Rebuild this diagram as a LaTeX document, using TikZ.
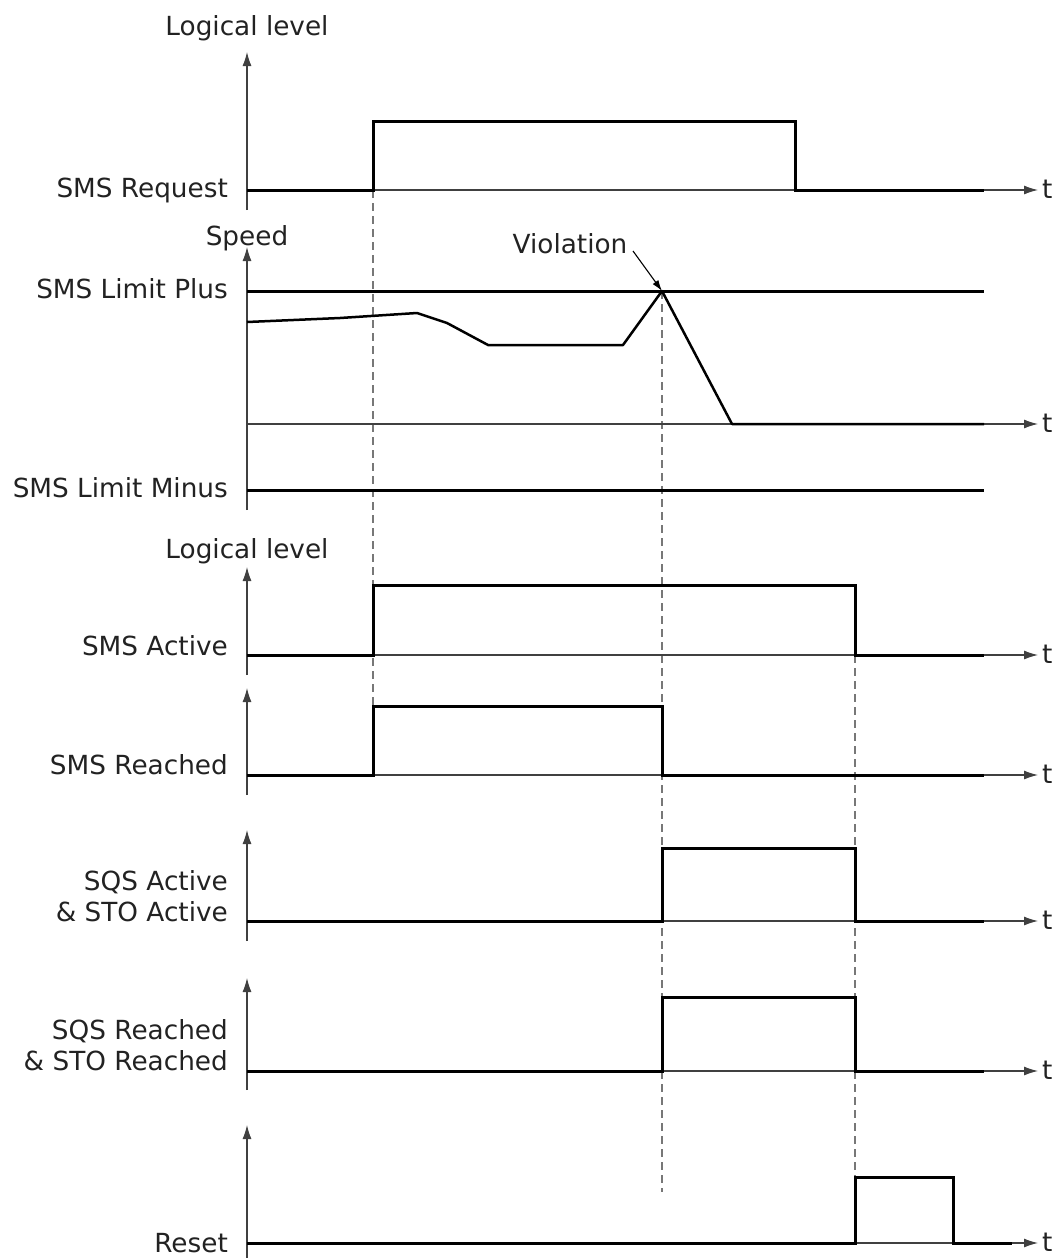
\documentclass[tikz,border=0pt]{standalone}
\usepackage{fontspec}
\setmainfont{DejaVu Sans}
\usepackage{xcolor}
\usetikzlibrary{arrows.meta,positioning}

\definecolor{inkgray}{HTML}{222222}
\definecolor{guidegray}{HTML}{777777}

\tikzset{
  axis/.style={line width=1.1pt,draw=black!75,-{Latex[length=14pt,width=9pt]}},
  sig/.style={line width=3pt,black,line join=miter},
  guide/.style={line width=1.3pt,guidegray,dash pattern=on 8pt off 5pt},
  lbl/.style={text=inkgray,inner sep=0pt,font=\fontsize{26.3}{31}\selectfont},
}

\begin{document}
\begin{tikzpicture}[x=1pt,y=-1pt]
  \useasboundingbox (0,0) rectangle (1055,1258);

  % guides
  \draw[guide] (373,190) -- (373,706);
  \draw[guide] (662,291) -- (662,1192);
  \draw[guide] (855,655) -- (855,1177);

  % vertical axes
  \foreach \ya/\yb in {210/52,510/247,675/567,795/688,941/830,1090/978,1258/1125}
    \draw[axis] (247,\ya) -- (247,\yb);

  % time axes
  \foreach \y/\n in {190/a,424/b,655/c,775/d,921/e,1071/f,1243/g} {
    \coordinate (o\n) at (247,\y);
    \coordinate (e\n) at (1038,\y);
    \draw[axis] (o\n) -- (e\n);
    \node[lbl,anchor=base west] (t\n) at (1042,\y+8) {t};
  }

  % titles
  \node[lbl,anchor=base] (lvlA) at (247,35) {Logical level};
  \node[lbl,anchor=base] (speed) at (247,245) {Speed};
  \node[lbl,anchor=base] (lvlB) at (247,558) {Logical level};

  % signal names
  \node[lbl,anchor=base east] (req) at (228,197) {SMS Request};
  \node[lbl,anchor=base east] (plus) at (228,298) {SMS Limit Plus};
  \node[lbl,anchor=base east] (minus) at (228,497) {SMS Limit Minus};
  \node[lbl,anchor=base east] (act) at (228,655) {SMS Active};
  \node[lbl,anchor=base east] (rch) at (228,774) {SMS Reached};
  \node[lbl,anchor=base east,align=right] (sqsa) at (228,921) {SQS Active\\\& STO Active};
  \node[lbl,anchor=base east,align=right] (sqsr) at (228,1070) {SQS Reached\\\& STO Reached};
  \node[lbl,anchor=base east] (rst) at (228,1252) {Reset};

  % SMS request
  \draw[sig] (247,190) -- (373,190) -- (373,121) -- (795,121) -- (795,190) -- (984,190);

  % speed
  \draw[sig] (247,291) -- (984,291);
  \draw[sig] (247,490) -- (984,490);
  \coordinate (peak) at (662,291);
  \draw[line width=2.5pt,black,line join=round] (247,322) -- (340,318) -- (417,313) -- (447,323)
    -- (488,345) -- (623,345) -- (peak) -- (732,424) -- (984,424);
  \node[lbl,anchor=base] (viol) at (570,253) {Violation};
  \coordinate (violtail) at (633,251);
  \draw[line width=1.1pt,-{Latex[length=11pt,width=7pt]}] (violtail) -- (peak);

  % SMS active / reached
  \draw[sig] (247,655) -- (373,655) -- (373,585) -- (855,585) -- (855,655) -- (984,655);
  \draw[sig] (247,775) -- (373,775) -- (373,706) -- (662,706) -- (662,775) -- (984,775);

  % SQS / STO
  \draw[sig] (247,921) -- (662,921) -- (662,848) -- (855,848) -- (855,921) -- (984,921);
  \draw[sig] (247,1071) -- (662,1071) -- (662,997) -- (855,997) -- (855,1071) -- (984,1071);

  % reset
  \draw[sig] (247,1243) -- (855,1243) -- (855,1177) -- (953,1177) -- (953,1243) -- (1012,1243);
\end{tikzpicture}
\end{document}
